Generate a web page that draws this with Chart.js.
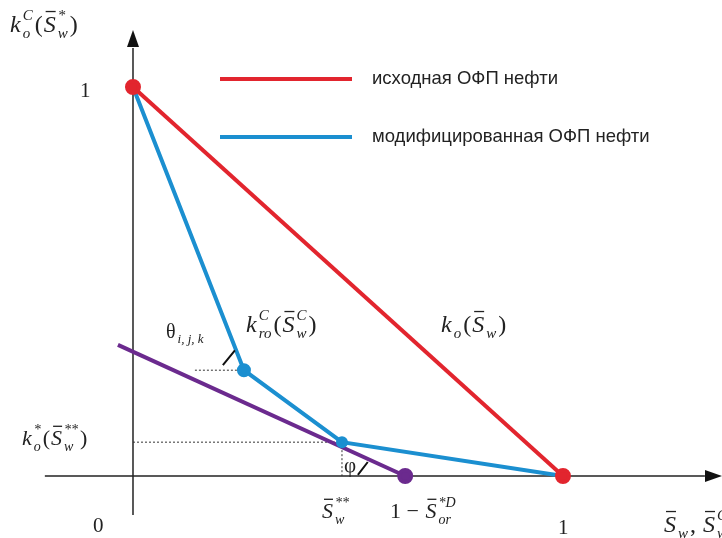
<!DOCTYPE html>
<html>
<head>
<meta charset="utf-8">
<script src="https://cdn.jsdelivr.net/npm/chart.js@4"></script>
<style>
  html, body { margin: 0; padding: 0; background: #fff; }
  #wrap { width: 722px; height: 538px; }
</style>
</head>
<body>
<div id="wrap"><canvas id="myChart"></canvas></div>
<script>
// Curves (x = water saturation, y = oil relative permeability)
const origX = [0, 1];
const origY = [1, 0];
const modX = [0, 0.258, 0.486, 1];
const modY = [1, 0.272, 0.087, 0];
const tanX = [-0.035, 0.633];
const tanY = [0.337, 0];
const seriesNames = ['исходная ОФП нефти', 'модифицированная ОФП нефти'];

const RED = '#e2252e';
const BLUE = '#1b8fd0';
const PURPLE = '#6b2a8e';

const toPts = (xs, ys) => xs.map((x, i) => ({ x: x, y: ys[i] }));

// draw math-like text: parts = [{t, it, bar, sup, sub}]
function mathText(ctx, x, y, parts, size) {
  const serif = '"Liberation Serif", "DejaVu Serif", serif';
  const small = Math.round(size * 0.64);
  parts.forEach(p => {
    ctx.font = (p.it ? 'italic ' : '') + size + 'px ' + serif;
    ctx.fillText(p.t, x, y);
    let w = ctx.measureText(p.t).width + 1;
    if (p.bar) {
      ctx.fillRect(x + 2, y - size * 0.88, w - 3, 1.3);
    }
    let extra = 0;
    if (p.sup) {
      ctx.font = 'italic ' + small + 'px ' + serif;
      ctx.fillText(p.sup, x + w + 1, y - size * 0.48);
      extra = Math.max(extra, ctx.measureText(p.sup).width + 3);
    }
    if (p.sub) {
      ctx.font = 'italic ' + small + 'px ' + serif;
      ctx.fillText(p.sub, x + w + 1, y + size * 0.25);
      extra = Math.max(extra, ctx.measureText(p.sub).width + 3);
    }
    x += w + extra;
  });
}

const annotations = {
  id: 'annotations',
  afterDatasetsDraw(chart) {
    const ctx = chart.ctx;
    const sx = chart.scales.x, sy = chart.scales.y;
    const px = v => sx.getPixelForValue(v);
    const py = v => sy.getPixelForValue(v);
    ctx.save();
    ctx.fillStyle = '#111';
    ctx.strokeStyle = '#111';

    // arrow heads
    ctx.beginPath();
    ctx.moveTo(px(0), 30); ctx.lineTo(px(0) - 6, 47); ctx.lineTo(px(0) + 6, 47); ctx.closePath(); ctx.fill();
    ctx.beginPath();
    ctx.moveTo(722, py(0)); ctx.lineTo(705, py(0) - 6); ctx.lineTo(705, py(0) + 6); ctx.closePath(); ctx.fill();

    // angle marks
    ctx.lineWidth = 2;
    ctx.beginPath();
    ctx.moveTo(px(0.209), py(0.285)); ctx.lineTo(px(0.237), py(0.323));
    ctx.moveTo(px(0.523), py(0.003)); ctx.lineTo(px(0.546), py(0.036));
    ctx.stroke();

    // legend
    chart.data.datasets.slice(0, 2).forEach((ds, i) => {
      const y = 79 + i * 58;
      ctx.strokeStyle = ds.borderColor;
      ctx.lineWidth = 4;
      ctx.beginPath(); ctx.moveTo(220, y); ctx.lineTo(352, y); ctx.stroke();
      ctx.fillStyle = '#222';
      ctx.font = '18.5px "Liberation Sans", Arial, sans-serif';
      ctx.textBaseline = 'middle';
      ctx.fillText(ds.label, 372, y);
    });

    ctx.textBaseline = 'alphabetic';
    ctx.fillStyle = '#222';
    ctx.font = '21px "Liberation Serif", serif';
    ctx.fillText('1', 80, 97);
    ctx.fillText('0', 93, 532);
    ctx.fillText('1', 558, 534);

    // axis labels
    mathText(ctx, 10, 32, [
      { t: 'k', it: true, sup: 'C', sub: 'o' },
      { t: '(' },
      { t: 'S', it: true, bar: true, sup: '*', sub: 'w' },
      { t: ')' }
    ], 24);
    mathText(ctx, 664, 532, [
      { t: 'S', it: true, bar: true, sub: 'w' },
      { t: ', ' },
      { t: 'S', it: true, bar: true, sup: 'C', sub: 'w' }
    ], 24);
    mathText(ctx, 22, 445, [
      { t: 'k', it: true, sup: '*', sub: 'o' },
      { t: '(' },
      { t: 'S', it: true, bar: true, sup: '**', sub: 'w' },
      { t: ')' }
    ], 22);
    mathText(ctx, 322, 518, [
      { t: 'S', it: true, bar: true, sup: '**', sub: 'w' }
    ], 22);
    mathText(ctx, 390, 518, [
      { t: '1 − ' },
      { t: 'S', it: true, bar: true, sup: '*D', sub: 'or' }
    ], 22);
    mathText(ctx, 246, 332, [
      { t: 'k', it: true, sup: 'C', sub: 'ro' },
      { t: '(' },
      { t: 'S', it: true, bar: true, sup: 'C', sub: 'w' },
      { t: ')' }
    ], 24);
    mathText(ctx, 441, 332, [
      { t: 'k', it: true, sub: 'o' },
      { t: '(' },
      { t: 'S', it: true, bar: true, sub: 'w' },
      { t: ')' }
    ], 24);
    mathText(ctx, 166, 338, [
      { t: 'θ', sub: 'i, j, k' }
    ], 20);
    mathText(ctx, 344, 472, [{ t: 'φ' }], 21);
    ctx.restore();
  }
};

new Chart(document.getElementById('myChart'), {
  type: 'scatter',
  data: {
    datasets: [
      {
        label: seriesNames[0],
        data: toPts(origX, origY),
        showLine: true,
        borderColor: RED,
        backgroundColor: RED,
        borderWidth: 4,
        pointRadius: 6,
        order: 1
      },
      {
        label: seriesNames[1],
        data: toPts(modX, modY),
        showLine: true,
        borderColor: BLUE,
        backgroundColor: BLUE,
        borderWidth: 4,
        pointRadius: [0, 5, 4, 0],
        order: 2
      },
      {
        label: 'tangent',
        data: toPts(tanX, tanY),
        showLine: true,
        borderColor: PURPLE,
        backgroundColor: PURPLE,
        borderWidth: 4,
        pointRadius: [0, 6],
        order: 3
      },
      {
        label: 'y axis',
        data: toPts([0, 0], [-0.1, 1.1]),
        showLine: true,
        borderColor: '#222',
        borderWidth: 1.5,
        pointRadius: 0,
        order: 9
      },
      {
        label: 'x axis',
        data: toPts([-0.205, 1.33], [0, 0]),
        showLine: true,
        borderColor: '#222',
        borderWidth: 1.5,
        pointRadius: 0,
        order: 9
      },
      {
        label: 'guide h',
        data: toPts([0, modX[2]], [modY[2], modY[2]]),
        showLine: true,
        borderColor: '#333',
        borderWidth: 1,
        borderDash: [2, 2],
        pointRadius: 0,
        order: 8
      },
      {
        label: 'guide v',
        data: toPts([modX[2], modX[2]], [modY[2], 0]),
        showLine: true,
        borderColor: '#333',
        borderWidth: 1,
        borderDash: [2, 2],
        pointRadius: 0,
        order: 8
      },
      {
        label: 'guide theta',
        data: toPts([0.144, modX[1]], [modY[1], modY[1]]),
        showLine: true,
        borderColor: '#333',
        borderWidth: 1,
        borderDash: [2, 2],
        pointRadius: 0,
        order: 8
      }
    ]
  },
  options: {
    responsive: true,
    maintainAspectRatio: false,
    animation: false,
    layout: { padding: 0, autoPadding: false },
    plugins: { legend: { display: false }, tooltip: { enabled: false } },
    scales: {
      x: { type: 'linear', min: -0.3093, max: 1.3698, display: false },
      y: { type: 'linear', min: -0.1594, max: 1.2237, display: false }
    }
  },
  plugins: [annotations]
});
</script>
</body>
</html>
